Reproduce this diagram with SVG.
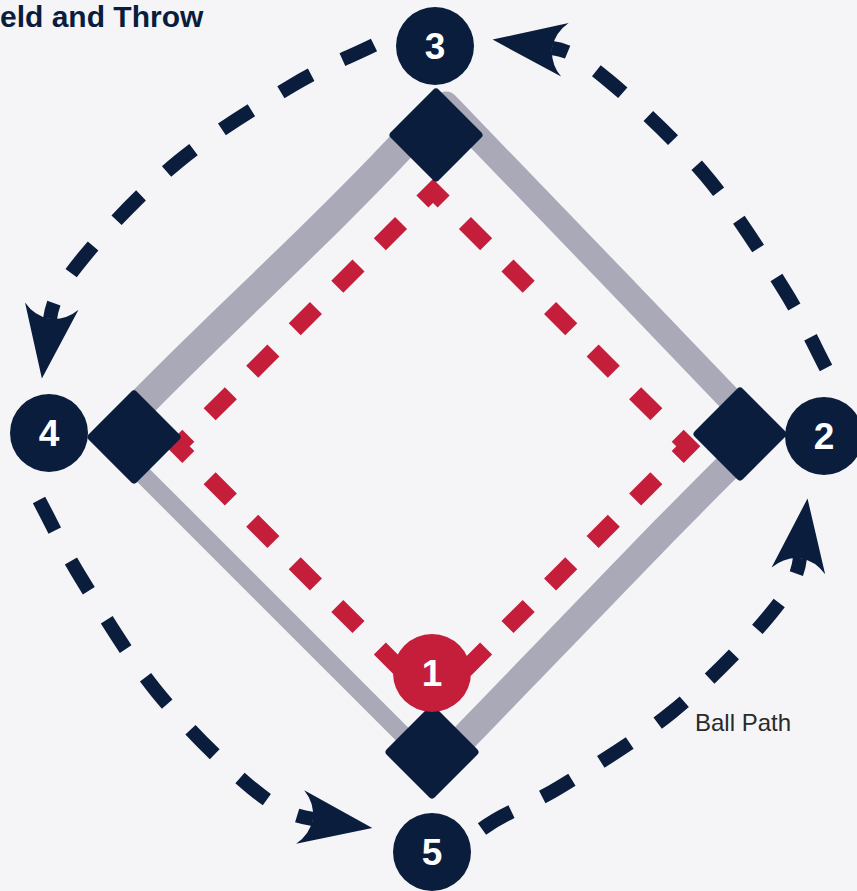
<svg xmlns="http://www.w3.org/2000/svg" width="857" height="891" viewBox="0 0 857 891">
  <style>
    .track { fill: none; stroke: #a9a9b8; stroke-linecap: round; stroke-linejoin: round; }
    .lane { fill: none; stroke: #c41e3a; stroke-width: 17; stroke-dasharray: 30 30.175; stroke-dashoffset: 15; stroke-linejoin: miter; }
    .base { fill: #0a1d3d; }
    .disc { fill: #0a1d3d; }
    .disc-red { fill: #c41e3a; }
    .num { font-family: "Liberation Sans", Arial, sans-serif; font-weight: bold; font-size: 37px; fill: #ffffff; text-anchor: middle; }
    .arc { fill: none; stroke: #0a1d3d; stroke-width: 14; stroke-dasharray: 34 34; stroke-linecap: butt; marker-end: url(#ah); }
    .title { font-family: "Liberation Sans", Arial, sans-serif; font-weight: bold; font-size: 30px; fill: #0a1d3d; }
    .label { font-family: "Liberation Sans", Arial, sans-serif; font-size: 24px; fill: #2a2a2a; }
  </style>
  <defs>
    <marker id="ah" markerUnits="userSpaceOnUse" orient="auto" markerWidth="140" markerHeight="140" viewBox="-70 -70 140 140" refX="0" refY="0" overflow="visible">
      <path d="M60,0 L-13,-27 Q-1,-16 0,0 Q-1,16 -13,27 Z" fill="#0a1d3d"/>
    </marker>
  </defs>
  <rect x="0" y="0" width="857" height="891" fill="#f5f5f8"/>

  <text class="title" x="0" y="27">eld and Throw</text>

  <g id="track">
    <path class="track" stroke-width="30" d="M116,430 C180,360 330,225 416,130"/>
    <path class="track" stroke-width="25" d="M446,104 C530,190 650,316 745,415"/>
    <path class="track" stroke-width="28" d="M738,457 C712,482 690,505 665,530 L462,740"/>
    <path class="track" stroke-width="18" d="M118,450 L415,747"/>
  </g>

  <g id="throw-lane">
    <path class="lane" d="M433,191 L688.3,446.3 L433,701.6 L177.7,446.3 Z"/>
  </g>

  <g id="base-top"><rect class="base" x="-34" y="-34" width="68" height="68" rx="4" transform="translate(436,135) rotate(45)"/></g>
  <g id="base-left"><rect class="base" x="-34" y="-34" width="68" height="68" rx="4" transform="translate(134,437) rotate(45)"/></g>
  <g id="base-right"><rect class="base" x="-34" y="-34" width="68" height="68" rx="4" transform="translate(740,434) rotate(45)"/></g>
  <g id="base-bottom"><rect class="base" x="-34" y="-34" width="68" height="68" rx="4" transform="translate(432,752) rotate(45)"/></g>

  <g id="node-1"><circle class="disc-red" cx="432" cy="673" r="39"/><text class="num" x="432" y="686">1</text></g>
  <g id="node-2"><circle class="disc" cx="824" cy="436" r="39"/><text class="num" x="824" y="449">2</text></g>
  <g id="node-3"><circle class="disc" cx="435" cy="46" r="39"/><text class="num" x="435" y="59">3</text></g>
  <g id="node-4"><circle class="disc" cx="49" cy="433" r="39"/><text class="num" x="49" y="446">4</text></g>
  <g id="node-5"><circle class="disc" cx="432" cy="852" r="39"/><text class="num" x="432" y="865">5</text></g>

  <g id="connectors">
    <path class="arc" pathLength="424" d="M374,45 C347,58.3 325.5,65.7 293,85 C260.5,104.3 214,132.2 179,161 C144,189.8 104.5,231.7 83,258 C61.5,284.3 52.7,299.2 50,319"/>
    <path class="arc" pathLength="424" d="M826,368 C812,341 803,320 783,288 C763,256 735,210.5 706,176 C677,141.5 634.7,102.3 609,81 C583.3,59.7 571.8,50.8 552,48"/>
    <path class="arc" pathLength="424" d="M39,500 C53,526 61.3,546 81,578 C100.7,610 128.3,656.8 157,692 C185.7,727.2 227,767.8 253,789 C279,810.2 293.2,816 313,819"/>
    <path class="arc" pathLength="424" d="M482,829 C508,810 528.3,806.5 560,787 C591.7,767.5 637.3,740.3 672,712 C706.7,683.7 746.7,642.7 768,617 C789.3,591.3 797.5,577.8 800,558"/>
  </g>

  <text class="label" x="695" y="731">Ball Path</text>
</svg>
